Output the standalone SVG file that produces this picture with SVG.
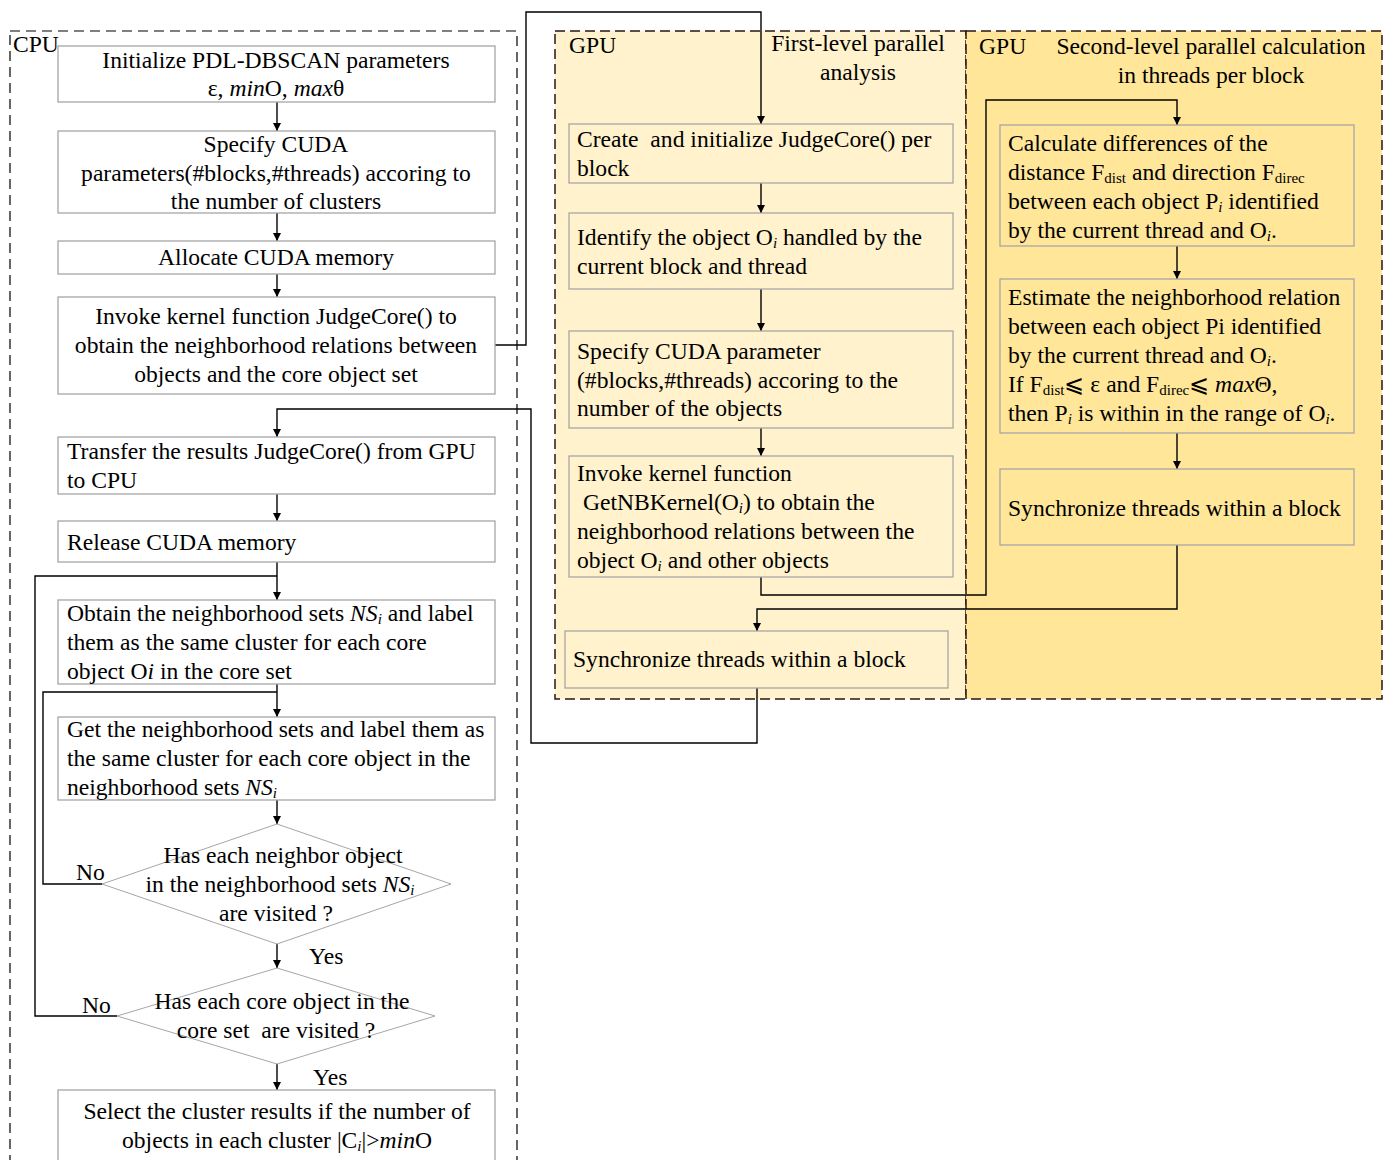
<svg xmlns="http://www.w3.org/2000/svg" width="1389" height="1160" viewBox="0 0 1389 1160">
<defs>
<marker id="arr" viewBox="0 0 10 10" refX="10" refY="5" markerWidth="8" markerHeight="8" markerUnits="userSpaceOnUse" orient="auto"><path d="M0,0 L10,5 L0,10 z" fill="#000"/></marker>
<style>
text{font-family:"Liberation Serif","Times New Roman",serif;font-size:23.6px;fill:#000}
.c{text-anchor:middle}
.it{font-style:italic}
.sub{font-size:15px}
.box{fill:#fff;stroke:#a6a6a6;stroke-width:1.3}
.gbox1{fill:#FFF2CC;stroke:#a6a6a6;stroke-width:1.3}
.gbox2{fill:#FFE699;stroke:#a6a6a6;stroke-width:1.3}
.dia{fill:#fff;stroke:#a6a6a6;stroke-width:1}
.frame{fill:none;stroke:#000;stroke-width:1.2;stroke-dasharray:10 6}
.gframe{stroke:#2a1515;stroke-width:1.5;stroke-dasharray:10 5}
.ln{fill:none;stroke:#000;stroke-width:1.4}
</style>
</defs>
<rect width="1389" height="1160" fill="#fff"/>

<g id="panels">
<rect class="frame" x="10" y="31" width="507" height="1140"/>
<rect class="gframe" x="555" y="31" width="411" height="668" fill="#FFF2CC"/>
<rect class="gframe" x="966" y="31" width="416" height="668" fill="#FFE699"/>
<text x="13" y="52">CPU</text>
<text x="569" y="53">GPU</text>
<text class="c" x="858" y="51">First-level parallel</text>
<text class="c" x="858" y="80">analysis</text>
<text x="979" y="54">GPU</text>
<text class="c" x="1211" y="54">Second-level parallel calculation</text>
<text class="c" x="1211" y="83">in threads per block</text>
</g>

<g id="connectors">
<path class="ln" d="M277,102 V131" marker-end="url(#arr)"/>
<path class="ln" d="M277,213 V241" marker-end="url(#arr)"/>
<path class="ln" d="M277,274 V297" marker-end="url(#arr)"/>
<path class="ln" d="M495,345 H526 V12 H761 V124" marker-end="url(#arr)"/>
<path class="ln" d="M761,183 V213" marker-end="url(#arr)"/>
<path class="ln" d="M761,289 V331" marker-end="url(#arr)"/>
<path class="ln" d="M761,428 V456" marker-end="url(#arr)"/>
<path class="ln" d="M761,577 V595 H986 V100 H1177 V125" marker-end="url(#arr)"/>
<path class="ln" d="M1177,246 V279" marker-end="url(#arr)"/>
<path class="ln" d="M1177,433 V469" marker-end="url(#arr)"/>
<path class="ln" d="M1177,545 V609 H757 V631" marker-end="url(#arr)"/>
<path class="ln" d="M757,688 V743 H531 V409 H277 V437" marker-end="url(#arr)"/>
<path class="ln" d="M277,494 V521" marker-end="url(#arr)"/>
<path class="ln" d="M277,562 V600" marker-end="url(#arr)"/>
<path class="ln" d="M277,684 V717" marker-end="url(#arr)"/>
<path class="ln" d="M277,800 V824" marker-end="url(#arr)"/>
<path class="ln" d="M277,944 V968" marker-end="url(#arr)"/>
<path class="ln" d="M277,1064 V1090" marker-end="url(#arr)"/>
<path class="ln" d="M102,884 H43 V692 H277"/>
<path class="ln" d="M117,1016 H35 V576 H277"/>
<text x="76" y="880">No</text>
<text x="82" y="1013">No</text>
<text x="309" y="964">Yes</text>
<text x="313" y="1085">Yes</text>
</g>

<g id="n1"><rect class="box" x="58" y="46" width="437" height="56"/>
<text class="c" x="276" y="68">Initialize PDL-DBSCAN parameters</text>
<text class="c" x="276" y="96">ε, <tspan class="it">min</tspan>O, <tspan class="it">max</tspan>θ</text></g>

<g id="n2"><rect class="box" x="58" y="131" width="437" height="82"/>
<text class="c" x="276" y="152">Specify CUDA</text>
<text class="c" x="276" y="181">parameters(#blocks,#threads) accoring to</text>
<text class="c" x="276" y="209">the number of clusters</text></g>

<g id="n3"><rect class="box" x="58" y="241" width="437" height="33"/>
<text class="c" x="276" y="265">Allocate CUDA memory</text></g>

<g id="n4"><rect class="box" x="58" y="297" width="437" height="97"/>
<text class="c" x="276" y="324">Invoke kernel function JudgeCore() to</text>
<text class="c" x="276" y="353">obtain the neighborhood relations between</text>
<text class="c" x="276" y="382">objects and the core object set</text></g>

<g id="n5"><rect class="box" x="58" y="437" width="437" height="57"/>
<text x="67" y="459">Transfer the results JudgeCore() from GPU</text>
<text x="67" y="488">to CPU</text></g>

<g id="n6"><rect class="box" x="58" y="521" width="437" height="41"/>
<text x="67" y="550">Release CUDA memory</text></g>

<g id="n7"><rect class="box" x="58" y="600" width="437" height="84"/>
<text x="67" y="621">Obtain the neighborhood sets <tspan class="it">NS</tspan><tspan class="it sub" dy="3">i</tspan><tspan dy="-3"> and label</tspan></text>
<text x="67" y="650">them as the same cluster for each core</text>
<text x="67" y="679">object O<tspan class="it">i</tspan> in the core set</text></g>

<g id="n8"><rect class="box" x="58" y="717" width="437" height="83"/>
<text x="67" y="737">Get the neighborhood sets and label them as</text>
<text x="67" y="766">the same cluster for each core object in the</text>
<text x="67" y="795">neighborhood sets <tspan class="it">NS</tspan><tspan class="it sub" dy="3">i</tspan></text></g>

<g id="n9"><polygon class="dia" points="277,824 451,884 277,944 102,884"/>
<text class="c" x="283" y="863">Has each neighbor object</text>
<text class="c" x="280" y="892">in the neighborhood sets <tspan class="it">NS</tspan><tspan class="it sub" dy="3">i</tspan></text>
<text class="c" x="276" y="921">are visited ?</text></g>

<g id="n10"><polygon class="dia" points="277,968 435,1016 277,1064 117,1016"/>
<text class="c" x="282" y="1009">Has each core object in the</text>
<text class="c" x="276" y="1038" xml:space="preserve">core set  are visited ?</text></g>

<g id="n11"><rect class="box" x="58" y="1090" width="437" height="80"/>
<text class="c" x="277" y="1119">Select the cluster results if the number of</text>
<text class="c" x="277" y="1148">objects in each cluster |C<tspan class="it sub" dy="3">i</tspan><tspan dy="-3">|&gt;</tspan><tspan class="it">min</tspan>O</text></g>

<g id="g1"><rect class="gbox1" x="569" y="124" width="384" height="59"/>
<text x="577" y="147" xml:space="preserve">Create  and initialize JudgeCore() per</text>
<text x="577" y="176">block</text></g>

<g id="g2"><rect class="gbox1" x="569" y="213" width="384" height="76"/>
<text x="577" y="245">Identify the object O<tspan class="it sub" dy="3">i</tspan><tspan dy="-3"> handled by the</tspan></text>
<text x="577" y="274">current block and thread</text></g>

<g id="g3"><rect class="gbox1" x="569" y="331" width="384" height="97"/>
<text x="577" y="359">Specify CUDA parameter</text>
<text x="577" y="388">(#blocks,#threads) accoring to the</text>
<text x="577" y="416">number of the objects</text></g>

<g id="g4"><rect class="gbox1" x="569" y="456" width="384" height="121"/>
<text x="577" y="481">Invoke kernel function</text>
<text x="577" y="510" xml:space="preserve"> GetNBKernel(O<tspan class="it sub" dy="3">i</tspan><tspan dy="-3">) to obtain the</tspan></text>
<text x="577" y="539">neighborhood relations between the</text>
<text x="577" y="568">object O<tspan class="it sub" dy="3">i</tspan><tspan dy="-3"> and other objects</tspan></text></g>

<g id="g5"><rect class="gbox1" x="565" y="631" width="383" height="57"/>
<text x="573" y="667">Synchronize threads within a block</text></g>

<g id="h1"><rect class="gbox2" x="1000" y="125" width="354" height="121"/>
<text x="1008" y="151">Calculate differences of the</text>
<text x="1008" y="180">distance F<tspan class="sub" dy="3">dist</tspan><tspan dy="-3"> and direction F</tspan><tspan class="sub" dy="3">direc</tspan></text>
<text x="1008" y="209">between each object P<tspan class="it sub" dy="3">i</tspan><tspan dy="-3"> identified</tspan></text>
<text x="1008" y="238">by the current thread and O<tspan class="it sub" dy="3">i</tspan><tspan dy="-3">.</tspan></text></g>

<g id="h2"><rect class="gbox2" x="1000" y="279" width="354" height="154"/>
<text x="1008" y="305">Estimate the neighborhood relation</text>
<text x="1008" y="334">between each object Pi identified</text>
<text x="1008" y="363">by the current thread and O<tspan class="it sub" dy="3">i</tspan><tspan dy="-3">.</tspan></text>
<text x="1008" y="392">If F<tspan class="sub" dy="3">dist</tspan><tspan dy="-3">⩽ ε and F</tspan><tspan class="sub" dy="3">direc</tspan><tspan dy="-3">⩽ </tspan><tspan class="it">max</tspan>Θ,</text>
<text x="1008" y="421">then P<tspan class="it sub" dy="3">i</tspan><tspan dy="-3"> is within in the range of O</tspan><tspan class="it sub" dy="3">i</tspan><tspan dy="-3">.</tspan></text></g>

<g id="h3"><rect class="gbox2" x="1000" y="469" width="354" height="76"/>
<text x="1008" y="516">Synchronize threads within a block</text></g>
</svg>
